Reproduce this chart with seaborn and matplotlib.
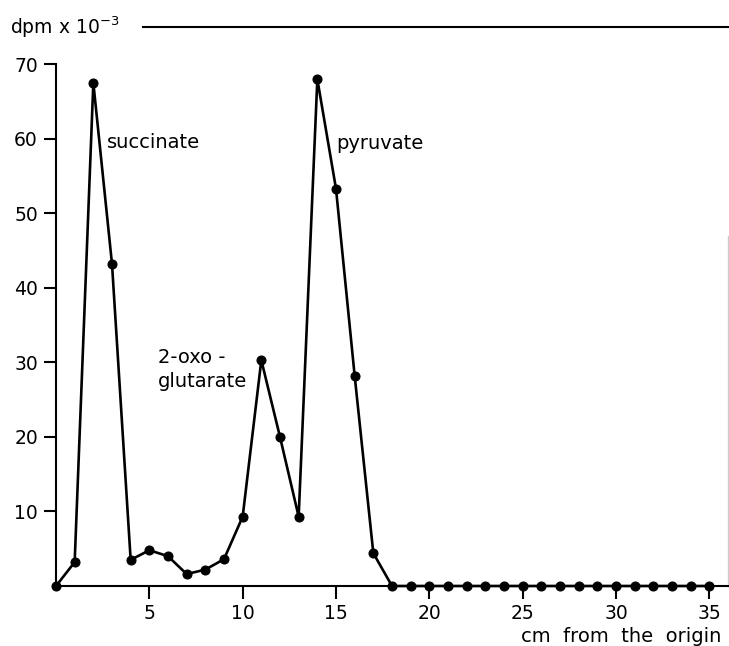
import matplotlib
matplotlib.use("Agg")
import matplotlib.pyplot as plt
import seaborn as sns
import pandas as pd

# Data
cm_from_origin = list(range(0, 36))
dpm_thousands = [0, 3.2, 67.5, 43.2, 3.5, 4.8, 4.0, 1.6, 2.2, 3.6,
                 9.3, 30.3, 20.0, 9.3, 68.0, 53.3, 28.2, 4.4] + [0] * 18
x_ticks = [5, 10, 15, 20, 25, 30, 35]
y_ticks = [10, 20, 30, 40, 50, 60, 70]

sns.set_theme(style="ticks")
plt.rcParams['font.family'] = ['DejaVu Sans']
plt.rcParams['text.color'] = 'black'

df = pd.DataFrame({"cm": cm_from_origin, "dpm": dpm_thousands})

fig = plt.figure(figsize=(7.29, 6.46), dpi=100)
ax = fig.add_axes([56/729, 1-586/646, (728-56)/729, (586-27)/646])

sns.lineplot(data=df, x="cm", y="dpm", ax=ax, color="black", linewidth=1.9,
             marker="o", markersize=6.5, markeredgecolor="black", markerfacecolor="black",
             clip_on=False, zorder=3)

ax.set_xlim(0, 36)
ax.set_ylim(0, 75)
ax.set_xticks(x_ticks)
ax.set_yticks(y_ticks)
ax.set_xlabel("")
ax.set_ylabel("")
ax.tick_params(axis="both", direction="out", length=9, width=1.5, colors="black",
               labelsize=13.5, pad=4)

for s in ["left", "bottom", "top", "right"]:
    ax.spines[s].set_color("black")
    ax.spines[s].set_linewidth(1.5)
ax.spines["left"].set_bounds(0, 70)
ax.spines["top"].set_bounds(4.65, 36)
ax.spines["right"].set_bounds(0, 47)
ax.spines["right"].set_color("#cccccc")
ax.spines["right"].set_linewidth(1.0)

ax.text(2.73, 59.5, "succinate", fontsize=14, va="center", ha="left", color="black")
ax.text(15.03, 59.4, "pyruvate", fontsize=14, va="center", ha="left", color="black")
ax.text(5.46, 29.0, "2-oxo -\nglutarate", fontsize=14, va="center", ha="left",
        linespacing=1.35, color="black")

fig.text(10/729, 1-27/646, r"dpm x 10$^{-3}$", fontsize=13.5, va="center", ha="left", color="black")
fig.text(521/729, 1-636/646, "cm  from  the  origin", fontsize=14, va="center", ha="left", color="black")

fig.savefig("out.png", dpi=100, facecolor="white")
